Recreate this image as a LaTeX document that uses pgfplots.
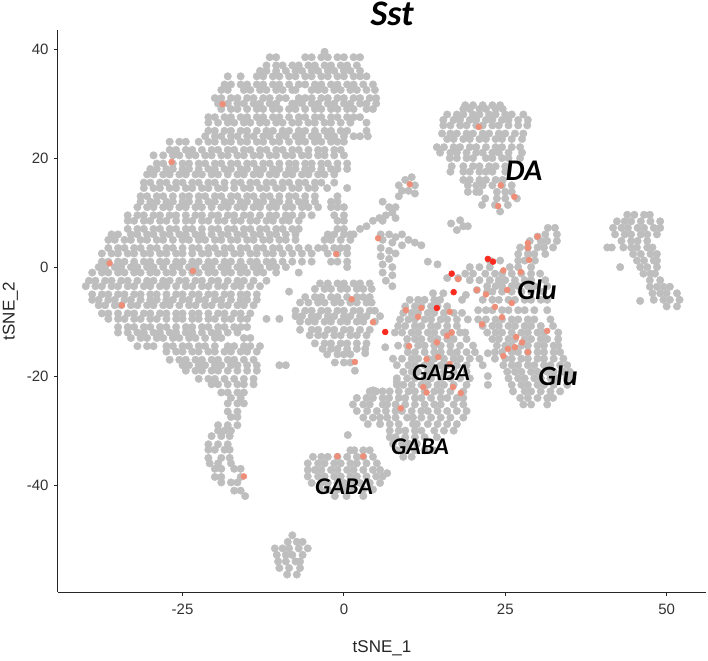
\documentclass[border=0pt]{standalone}
\usepackage{fontspec}
\setmainfont{Liberation Sans}
\newfontfamily\lab{Carlito}[BoldItalicFont={Carlito Bold Italic}]
\usepackage{pgfplots}
\usepackage{pgfplotstable}
\pgfplotsset{compat=1.18}
\definecolor{ptgrey}{HTML}{BEBEBE}
\definecolor{ptsalmon}{HTML}{EE8E78}
\definecolor{ptred}{HTML}{FA2A1E}
\pgfplotstableread{
x y
-3 39.5
-11.5 38.5
-10.5 38.5
-6 38.5
-5 38.5
-3.5 38.5
-2.5 38.5
-1 38.5
0 38.5
1.5 38.5
2.5 38.5
-12 37
-10.5 37
-9.5 37
-8 37
-7 37
-5.5 37
-4.5 37
-3 37
-2 37
-0.5 37
0.5 37
2 37
-13 36
-12 36
-10.5 36
-9 36
-7.5 36
-6.5 36
-5 36
-4 36
-2.5 36
-1.5 36
0 36
1 36
2.5 36
-18 35
-16 35
-13.5 35
-12.5 35
-11 35
-10 35
-8.5 35
-7.5 35
-6 35
-5 35
-3.5 35
-2.5 35
-1 35
0 35
1.5 35
2.5 35
3.5 35
-18.5 33.5
-17.5 33.5
-16 33.5
-15 33.5
-13.5 33.5
-12.5 33.5
-11 33.5
-10 33.5
-8.5 33.5
-7 33.5
-6 33.5
-4.5 33.5
-3.5 33.5
-2 33.5
-1 33.5
0.5 33.5
1.5 33.5
3 33.5
4.5 33.5
-19 32.5
-18 32.5
-15.5 32.5
-14.5 32.5
-13 32.5
-12 32.5
-10.5 32.5
-9.5 32.5
-8 32.5
-7.5 32.5
-5 32.5
-4 32.5
-3 32.5
-1.5 32.5
-0.5 32.5
1 32.5
2 32.5
3.5 32.5
4.8 32.5
-20 31
-19 31
-17.5 31
-16.5 31
-15 31
-14 31
-12.5 31
-11.5 31
-10 31
-9 31
-7 31
-6 31
-5 31
-3.5 31
-2.5 31
-1 31
0 31
1.5 31
2.5 31
4 31
5 31
-19.5 30
-18 30
-16.5 30
-15.5 30
-14 30
-13 30
-11.5 30
-10.5 30
-8 30
-7.5 30
-6.5 30
-5 30
-4 30
-2.5 30
-1.5 30
0 30
1 30
2.5 30
3.5 30
5 30
-19 29
-17.5 29
-16.5 29
-15 29
-13.5 29
-12.5 29
-11 29
-10 29
-8.5 29
-7.5 29
-6 29
-4.5 29
-3.5 29
-2 29
-1 29
0.5 29
1.5 29
3.5 29
4.5 29
-21 27.5
-20 27.5
-18.5 27.5
-17.5 27.5
-16 27.5
-15 27.5
-13.5 27.5
-12.5 27.5
-11 27.5
-10 27.5
-8.5 27.5
-7 27.5
-6 27.5
-4.5 27.5
-3.5 27.5
-2 27.5
-1 27.5
0.5 27.5
1.5 27.5
2.5 27.5
-21 26.5
-19.5 26.5
-18 26.5
-17 26.5
-15.5 26.5
-14.5 26.5
-13 26.5
-12 26.5
-10.5 26.5
-9.5 26.5
-8 26.5
-7 26.5
-5.5 26.5
-4.5 26.5
-3 26.5
-2 26.5
-0.5 26.5
1 26.5
3.5 26.5
-21 25
-20 25
-18.5 25
-17.5 25
-16 25
-15 25
-13.5 25
-12 25
-11 25
-9.5 25
-8.5 25
-7 25
-6 25
-4.5 25
-3 25
-2 25
-0.5 25
0.5 25
3.5 25
-21.5 24
-20 24
-19 24
-17.5 24
-16.5 24
-15 24
-14 24
-12.5 24
-11.5 24
-10 24
-9 24
-7.5 24
-6.5 24
-5 24
-4 24
-2.5 24
-1.5 24
0 24
1.5 24
2.5 24
3.7 24
-27 23
-25.5 23
-24.5 23
-22.5 23
-21 23
-20 23
-18.5 23
-17.5 23
-16 23
-15 23
-13.5 23
-12.5 23
-11 23
-10 23
-8.5 23
-7 23
-6 23
-4.5 23
-3.5 23
-2 23
-1 23
0 23
-27 21.5
-26 21.5
-24.5 21.5
-23.5 21.5
-22 21.5
-20.5 21.5
-19.5 21.5
-18 21.5
-17 21.5
-15.5 21.5
-14.5 21.5
-13 21.5
-12 21.5
-10.5 21.5
-9.5 21.5
-8 21.5
-7 21.5
-5.5 21.5
-4 21.5
-3 21.5
-1.5 21.5
-0.5 21.5
-29.5 20.5
-28 20.5
-26.5 20.5
-25.5 20.5
-24 20.5
-23 20.5
-21.5 20.5
-20.5 20.5
-19 20.5
-18 20.5
-16.5 20.5
-15.5 20.5
-14 20.5
-13 20.5
-11.5 20.5
-10.5 20.5
-9 20.5
-8 20.5
-6.5 20.5
-5.5 20.5
-4 20.5
-3 20.5
-1.5 20.5
0 20.5
-29 19
-28 19
-26.5 19
-25 19
-24 19
-22.5 19
-21.5 19
-20 19
-19 19
-17.5 19
-16.5 19
-15 19
-14 19
-12.5 19
-11.5 19
-10 19
-8.5 19
-7.5 19
-6 19
-5 19
-3.5 19
-2.5 19
-1 19
0.5 19
-30 18
-29 18
-27.5 18
-26.5 18
-25 18
-24 18
-22.5 18
-21 18
-20 18
-18.5 18
-17.5 18
-16 18
-15 18
-13.5 18
-12.5 18
-11 18
-10 18
-8.5 18
-7.5 18
-6 18
-5 18
-3.5 18
-2 18
-1 18
0.5 18
-30.5 17
-29.5 17
-28 17
-27 17
-25.5 17
-24.5 17
-23 17
-22 17
-20.5 17
-19.5 17
-18 17
-16.5 17
-15.5 17
-14 17
-13 17
-11.5 17
-10.5 17
-9 17
-8 17
-6.5 17
-5.5 17
-4 17
-3 17
-1.5 17
-31 15.5
-30 15.5
-28.5 15.5
-27.5 15.5
-26 15.5
-25 15.5
-23.5 15.5
-22.5 15.5
-21 15.5
-20 15.5
-18.5 15.5
-17 15.5
-16 15.5
-14.5 15.5
-13.5 15.5
-12 15.5
-11 15.5
-9.5 15.5
-8.5 15.5
-7 15.5
-6 15.5
-4.5 15.5
-3.5 15.5
-1.5 15.5
-31 14.5
-29.5 14.5
-28.5 14.5
-27 14.5
-26 14.5
-24.5 14.5
-23.5 14.5
-22 14.5
-21 14.5
-19.5 14.5
-18.5 14.5
-17 14.5
-15.5 14.5
-14.5 14.5
-13 14.5
-12 14.5
-10.5 14.5
-9.5 14.5
-8 14.5
-7 14.5
-5.5 14.5
-4.5 14.5
-2.6 14.5
0.5 14.5
-31.5 13
-30.5 13
-29 13
-28 13
-26.5 13
-25 13
-24 13
-22.5 13
-21.5 13
-20 13
-19 13
-17.5 13
-16.5 13
-15 13
-14 13
-12.5 13
-11.5 13
-10 13
-8.5 13
-7.5 13
-6 13
-4.5 13
-1 13
-31.5 12
-30 12
-29 12
-27.5 12
-26.5 12
-25 12
-24 12
-22.5 12
-21 12
-20 12
-18.5 12
-17.5 12
-16 12
-15 12
-13.5 12
-12.5 12
-11 12
-10 12
-8.5 12
-7 12
-6 12
-4.5 12
-2 12
-1 12
-32 11
-30.5 11
-29.5 11
-28 11
-27 11
-25.5 11
-24.5 11
-23 11
-22 11
-20.5 11
-19 11
-18 11
-16.5 11
-15.5 11
-14 11
-13 11
-11.5 11
-10.5 11
-9 11
-8 11
-6.5 11
-5.5 11
-4 11
-2 11
-1 11
0 11
-33.5 9.5
-32 9.5
-31 9.5
-29.5 9.5
-28.5 9.5
-27 9.5
-26 9.5
-24.5 9.5
-23 9.5
-22 9.5
-20.5 9.5
-19.5 9.5
-18 9.5
-17 9.5
-15.5 9.5
-14.5 9.5
-13 9.5
-11.5 9.5
-10.5 9.5
-9 9.5
-8 9.5
-6.5 9.5
-5 9.5
-1.5 9.5
0 9.5
-33.5 8.5
-32.5 8.5
-31 8.5
-30 8.5
-28.5 8.5
-27.5 8.5
-26 8.5
-24.5 8.5
-23.5 8.5
-22 8.5
-21 8.5
-19.5 8.5
-18.5 8.5
-17 8.5
-16 8.5
-14.5 8.5
-13.5 8.5
-12 8.5
-11 8.5
-9.5 8.5
-8.5 8.5
-7 8.5
-1 8.5
0 8.5
-33.5 7
-32 7
-31 7
-29.5 7
-28.5 7
-27 7
-26 7
-24.5 7
-23.5 7
-22 7
-20.5 7
-19.5 7
-18 7
-17 7
-15.5 7
-14.5 7
-13 7
-12 7
-10.5 7
-9.5 7
-8 7
-7 7
-1 7
0 7
-36 6
-35 6
-33 6
-32 6
-30.5 6
-29.5 6
-28 6
-27 6
-25.5 6
-24.5 6
-23 6
-22 6
-20.5 6
-19 6
-18 6
-16.5 6
-15.5 6
-14 6
-13 6
-11.5 6
-10.5 6
-9 6
-7.5 6
-2.5 6
-1.5 6
0 6
1.5 6
-36.5 5
-35.5 5
-34 5
-33 5
-31.5 5
-30.5 5
-29 5
-28 5
-26.5 5
-25 5
-24 5
-22.5 5
-21.5 5
-20 5
-19 5
-17.5 5
-16.5 5
-15 5
-14 5
-12.5 5
-11.5 5
-10 5
-9 5
-7.5 5
-3 5
-2 5
-0.5 5
1 5
-36.5 3.5
-35 3.5
-34 3.5
-32.5 3.5
-31.5 3.5
-30 3.5
-29 3.5
-27.5 3.5
-26.5 3.5
-25 3.5
-23.5 3.5
-22.5 3.5
-21 3.5
-20 3.5
-18.5 3.5
-17.5 3.5
-16 3.5
-15 3.5
-13.5 3.5
-12.5 3.5
-11 3.5
-10 3.5
-8.5 3.5
-7 3.5
-5.5 3.5
-4 3.5
-3 3.5
-1.5 3.5
-0.5 3.5
0.5 3.5
-37.5 2.5
-36 2.5
-35 2.5
-33.5 2.5
-32.5 2.5
-31 2.5
-30 2.5
-28.5 2.5
-27.5 2.5
-26 2.5
-25 2.5
-23.5 2.5
-22 2.5
-21 2.5
-19.5 2.5
-18.5 2.5
-17 2.5
-16 2.5
-14.5 2.5
-13.5 2.5
-12 2.5
-11 2.5
-9.5 2.5
-8 2.5
-6.5 2.5
-5 2.5
-2.5 2.5
-1 2.5
0.5 2.5
-37.5 1
-36.5 1
-35 1
-34 1
-32.5 1
-31 1
-30 1
-28.5 1
-27.5 1
-26 1
-25 1
-23.5 1
-22.5 1
-21 1
-20 1
-18.5 1
-17.5 1
-16 1
-14.5 1
-13.5 1
-12 1
-11 1
-9.5 1
-8 1
-6.5 1
-5 1
-2 1
-1 1
0.5 1
-38 0
-37 0
-35.5 0
-34.5 0
-33 0
-32 0
-30.5 0
-29.5 0
-28 0
-26.5 0
-25.5 0
-24 0
-23 0
-21.5 0
-20.5 0
-19 0
-18 0
-16.5 0
-15.5 0
-14 0
-13 0
-11.5 0
-10.5 0
-9 0
0.5 0
-39 -1
-37.5 -1
-36.5 -1
-35 -1
-34 -1
-32.5 -1
-31.5 -1
-30 -1
-29 -1
-27.5 -1
-26.5 -1
-25 -1
-23.5 -1
-22.5 -1
-21 -1
-20 -1
-18.5 -1
-17.5 -1
-16 -1
-15 -1
-13.5 -1
-12.5 -1
-10.5 -1
-7 -1
-39.5 -2.5
-38.5 -2.5
-37 -2.5
-36 -2.5
-34.5 -2.5
-33.5 -2.5
-32 -2.5
-30.5 -2.5
-29.5 -2.5
-28 -2.5
-27 -2.5
-25.5 -2.5
-24.5 -2.5
-23 -2.5
-22 -2.5
-20.5 -2.5
-19.5 -2.5
-18 -2.5
-16.5 -2.5
-15.5 -2.5
-14 -2.5
-12 -2.5
-40 -3.5
-38.5 -3.5
-37.5 -3.5
-36 -3.5
-35 -3.5
-33.5 -3.5
-32.5 -3.5
-31 -3.5
-30 -3.5
-28.5 -3.5
-27.5 -3.5
-26 -3.5
-24.5 -3.5
-23.5 -3.5
-22 -3.5
-21 -3.5
-19.5 -3.5
-18.5 -3.5
-17 -3.5
-16 -3.5
-14.5 -3.5
-13 -3.5
-39 -5
-37.5 -5
-36.5 -5
-35 -5
-34 -5
-32.5 -5
-31.5 -5
-30 -5
-29 -5
-27.5 -5
-26 -5
-25 -5
-23.5 -5
-22.5 -5
-21 -5
-20 -5
-18.5 -5
-17.5 -5
-16 -5
-15 -5
-13.5 -5
-39 -6
-38 -6
-36.5 -6
-35.5 -6
-34 -6
-33 -6
-31.5 -6
-30 -6
-29 -6
-27.5 -6
-26.5 -6
-25 -6
-24 -6
-22.5 -6
-21.5 -6
-20 -6
-19 -6
-17.5 -6
-16 -6
-15 -6
-13.5 -6
-38 -7
-37 -7
-35.5 -7
-34.5 -7
-33 -7
-32 -7
-30.5 -7
-29.5 -7
-28 -7
-27 -7
-25.5 -7
-24 -7
-23 -7
-21.5 -7
-20.5 -7
-19 -7
-18 -7
-16.5 -7
-15.5 -7
-14 -7
-37.5 -8.5
-36.5 -8.5
-35 -8.5
-33.5 -8.5
-32.5 -8.5
-31 -8.5
-30 -8.5
-28.5 -8.5
-27.5 -8.5
-26 -8.5
-25 -8.5
-23.5 -8.5
-22.5 -8.5
-21 -8.5
-19.5 -8.5
-18.5 -8.5
-17 -8.5
-16 -8.5
-14.5 -8.5
-36.5 -9.5
-35 -9.5
-34 -9.5
-32.5 -9.5
-31.5 -9.5
-30 -9.5
-29 -9.5
-27.5 -9.5
-26 -9.5
-25 -9.5
-23.5 -9.5
-22.5 -9.5
-21 -9.5
-20 -9.5
-18.5 -9.5
-17.5 -9.5
-16 -9.5
-15 -9.5
-12 -9.5
-10 -9.5
-35 -11
-33.5 -11
-32.5 -11
-31 -11
-30 -11
-28.5 -11
-27.5 -11
-26 -11
-24.5 -11
-23.5 -11
-22 -11
-21 -11
-19.5 -11
-18.5 -11
-17 -11
-16 -11
-15 -11
-35 -12
-33.5 -12
-32 -12
-31 -12
-29.5 -12
-28.5 -12
-27 -12
-26 -12
-24.5 -12
-23.5 -12
-22 -12
-20.5 -12
-19.5 -12
-18 -12
-16.5 -12
-33 -13
-31.5 -13
-30.5 -13
-29 -13
-28 -13
-26.5 -13
-25.5 -13
-24 -13
-23 -13
-21.5 -13
-20 -13
-19 -13
-15.5 -13
-14.5 -13
-32 -14.5
-30.5 -14.5
-29.5 -14.5
-27.5 -14.5
-26.5 -14.5
-25 -14.5
-24 -14.5
-22.5 -14.5
-21.5 -14.5
-20 -14.5
-18 -14.5
-17 -14.5
-15.5 -14.5
-14.5 -14.5
-13 -14.5
-27.5 -15.5
-26 -15.5
-25 -15.5
-23.5 -15.5
-22.5 -15.5
-21 -15.5
-20 -15.5
-18.5 -15.5
-17.5 -15.5
-16 -15.5
-15 -15.5
-13.5 -15.5
-27 -17
-25.5 -17
-24.5 -17
-23 -17
-22 -17
-20.5 -17
-19.5 -17
-18 -17
-17 -17
-15.5 -17
-14 -17
-25 -18
-24 -18
-22.5 -18
-21.5 -18
-20 -18
-19 -18
-17.5 -18
-16.5 -18
-15 -18
-13.5 -18
-10 -18
-9 -18
-24.5 -19
-23 -19
-22 -19
-20.5 -19
-19.5 -19
-18 -19
-16.5 -19
-15 -19
-13.5 -19
-22.5 -20.5
-21 -20.5
-20 -20.5
-18.5 -20.5
-17 -20.5
-15.5 -20.5
-14 -20.5
-20.5 -21.5
-19.5 -21.5
-18 -21.5
-16.5 -21.5
-15.5 -21.5
-14 -21.5
-19 -23
-18 -23
-16.5 -23
-15.5 -23
-17.5 -24
-16 -24
-18 -25
-16.5 -25
-15.5 -25
-18 -26.5
-16.5 -26.5
-17.5 -27.5
-16.5 -27.5
-19.5 -29
-18 -29
-16.5 -29
-19.5 -30
-18.5 -30
-17.5 -30
-20.5 -31
-19 -31
-17.7 -31
-21 -32.5
-19.5 -32.5
-18 -32.5
-21 -33.5
-20 -33.5
-18.5 -33.5
-17.7 -33.5
-21 -35
-19 -35
-17.7 -35
-20.8 -36
-19.5 -36
-17.5 -36
-20 -37
-19 -37
-17 -37
-16 -37
-20 -38.5
-19 -38.5
-16 -38.5
-19 -39.5
-17.5 -39.5
-16.5 -39.5
-17 -41
-16 -41
-15.3 -42
1 6
2.5 7
3.5 7.5
4.5 8.5
5.5 9
6.5 9.5
7.5 10
8 11
6 8.5
7 11
8.5 13
9 14
10 14
11 15
8.5 15
9.5 16
10.5 16.5
11 13.5
5.7 6
7 6
8 5.5
9 6
10 5
11 4.5
12 4
6 5
7.5 4.5
9 4
5.7 3.5
7 3
8 2.5
5.7 2
7 1.5
6 0.5
7.5 0
6 -1
7.5 -1.5
6.5 -2.5
7.5 -3.5
13 1
14.5 0.5
6 12
8 9
-3.7 -3
-2.5 -3
-1 -3
0 -3
1.5 -3
2.5 -3
4 -3
-4.5 -4
-3 -4
-2 -4
-0.5 -4
0.5 -4
2 -4
3 -4
4.3 -4
-8.5 -4.5
-6 -5.5
-4.5 -5.5
-3.5 -5.5
-2 -5.5
-1 -5.5
0.5 -5.5
2 -5.5
3 -5.5
4 -5.5
-6.8 -6.5
-5.5 -6.5
-4 -6.5
-3 -6.5
-1.5 -6.5
-0.5 -6.5
1 -6.5
2 -6.5
3.5 -6.5
4.3 -6.5
-7.5 -8
-6 -8
-5 -8
-3.5 -8
-2.5 -8
-1 -8
0 -8
1.5 -8
2.5 -8
4 -8
4.8 -8
-7.5 -9
-6.5 -9
-5 -9
-4 -9
-2.5 -9
-1.5 -9
0 -9
1 -9
2.5 -9
3.5 -9
5.6 -9
-6.8 -10
-5.5 -10
-4.5 -10
-3 -10
-2 -10
-0.5 -10
0.5 -10
2 -10
3 -10
4.8 -10
-6.8 -11.5
-5 -11.5
-4 -11.5
-2.5 -11.5
-1.5 -11.5
0 -11.5
1 -11.5
2.5 -11.5
4 -11.5
-5.3 -12.5
-4 -12.5
-3 -12.5
-1.5 -12.5
-0.5 -12.5
1 -12.5
2 -12.5
3.5 -12.5
-4.5 -14
-3 -14
-2 -14
-0.5 -14
0.5 -14
2 -14
3.5 -14
-3.3 -15
-2 -15
-1 -15
0.5 -15
2 -15
3.3 -15
-2.6 -16
-1 -16
0 -16
1 -16
-1.4 -17.5
0 -17.5
1 -17.5
1.7 -19
18.8 29.7
20 29.7
21.5 29.7
23 29.7
24.2 29.7
18.5 29
19.5 29
21 29
22 29
23.5 29
24.6 29
16 28
17.5 28
18.5 28
20 28
21 28
22.5 28
23.5 28
25 28
26 28
27.8 28
15.4 27
17 27
18 27
19.5 27
20.5 27
22 27
23 27
24.5 27
25.5 27
27 27
28.5 27
15.4 26
16.5 26
18 26
19 26
20.5 26
21.5 26
23 26
24 26
25.5 26
27 26
28.4 26
15.2 24.5
16.5 24.5
17.5 24.5
19 24.5
20 24.5
21.5 24.5
22.5 24.5
24 24.5
25 24.5
26.5 24.5
27.8 24.5
16 23.5
17 23.5
18.5 23.5
19.5 23.5
21 23.5
22 23.5
23.5 23.5
24.5 23.5
26 23.5
27.6 23.5
14.4 22
15.5 22
17 22
18 22
19.5 22
20.5 22
22 22
23.5 22
24.5 22
26 22
27.3 22
14.9 21
16.5 21
17.5 21
19 21
20.5 21
21.5 21
23 21
24 21
25.5 21
27.6 21
16.4 20
17.5 20
19 20
20 20
22 20
23 20
24.5 20
25.5 20
27.3 20
16.7 18.5
18.5 18.5
20 18.5
21 18.5
22.5 18.5
23.5 18.5
25 18.5
16.5 17.5
18.5 17.5
19.5 17.5
21 17.5
22 17.5
23 17.5
25 17.5
18.5 16
19.5 16
21 16
22 16
23.5 16
24.6 16
19.2 15
20.5 15
21.5 15
23 15
24.5 15
26 15
19.2 13.8
20.5 13.8
21 13.8
23.7 13.8
25 13.8
26 13.8
21.9 12.6
23.7 12.6
25 12.6
26.8 12.6
21.4 11.4
23.4 11.4
25.4 11.4
24.2 10.2
16.6 8
18 8.6
19.2 7.5
17.5 6.8
18.5 7.5
43.9 9.6
45 9.6
46.5 9.6
47.4 9.6
42.3 8.4
43.5 8.4
44.5 8.4
46 8.4
47.5 8.4
49 8.4
41.7 7.2
43 7.2
44 7.2
45.5 7.2
46.5 7.2
48 7.2
49 7.2
42 6
43.5 6
44.5 6
46 6
47 6
48.5 6
43 4.8
44.5 4.8
45.5 4.8
47 4.8
40.8 3.6
41.5 3.6
43.3 3.6
44.5 3.6
45.4 3.6
47 3.6
47.8 3.6
44.8 2.4
46 2.4
47.5 2.4
48.5 2.4
45.4 1.2
46.5 1.2
48 1.2
48.5 1.2
42.8 0
45.9 0
47 0
48.5 0
46.4 -1.2
47.5 -1.2
48.2 -1.2
47.4 -2.4
49 -2.4
47.4 -3.6
48.5 -3.6
49.5 -3.6
50.5 -3.6
47.8 -4.8
49 -4.8
50 -4.8
51.6 -4.8
48 -6
49.5 -6
50.5 -6
52 -6
50 -7.2
51.6 -7.2
45.9 -6.2
31.6 7.2
32.7 7.2
31.2 6
33 6
30 5.6
28.8 4.8
30.5 4.8
31.5 4.8
33 4.8
27.3 3.6
28.5 3.6
30 3.6
31 3.6
32.4 3.6
27 2.4
28.5 2.4
29.5 2.4
31.2 2.4
22.6 1.2
24.2 1.2
27 1.2
28 1.2
29.6 1.2
19.5 0
21 0
22.6 0
25.7 0
27 0
29 0
18.8 -1.2
20 -1.2
21.9 -1.2
23.4 -1.2
24.5 -1.2
26 -1.2
27.5 -1.2
29 -1.2
30.4 -1.2
19.5 -2.4
21 -2.4
22.6 -2.4
24 -2.4
25 -2.4
26.5 -2.4
28 -2.4
29 -2.4
31.2 -2.4
16 -2
17.7 -2
22.2 -3.5
23.5 -3.5
24.5 -3.5
26 -3.5
27 -3.5
28.5 -3.5
29.5 -3.5
31.5 -3.5
20.6 -4.2
22.2 -4.5
23 -4.5
24.5 -4.5
26 -4.5
27.5 -4.5
29 -4.5
30.9 -4.5
21.5 -6
23 -6
24 -6
25.5 -6
26.5 -6
28 -6
29 -6
30.5 -6
31.5 -6
20.8 -7.9
22 -7.9
23 -7.9
24.5 -7.9
25.5 -7.9
27 -7.9
28 -7.9
29.5 -7.9
31.5 -7.9
20.8 -9.6
22 -9.6
23.5 -9.6
24.5 -9.6
26 -9.6
27 -9.6
28.5 -9.6
29.5 -9.6
32 -9.6
21.5 -10.8
23 -10.8
24 -10.8
25.5 -10.8
26.5 -10.8
28 -10.8
29 -10.8
30.5 -10.8
32.4 -10.8
22.2 -12
23.5 -12
24.5 -12
26 -12
27.5 -12
28.5 -12
30 -12
31 -12
33.2 -12
23 -13.2
24 -13.2
25.5 -13.2
26.5 -13.2
28 -13.2
29 -13.2
30.5 -13.2
31.5 -13.2
33.2 -13.2
23.7 -14.4
25 -14.4
26 -14.4
27.5 -14.4
28.5 -14.4
30 -14.4
31 -14.4
32.5 -14.4
33.2 -14.4
23.4 -15.6
24.5 -15.6
26 -15.6
27 -15.6
28.5 -15.6
30 -15.6
31 -15.6
32.5 -15.6
33.5 -15.6
23.4 -16.8
25 -16.8
26 -16.8
27.5 -16.8
28.5 -16.8
30 -16.8
31 -16.8
32.5 -16.8
34 -16.8
24.7 -18
26 -18
27 -18
28.5 -18
29.5 -18
31 -18
32 -18
33.5 -18
34.6 -18
25.3 -19.2
26.5 -19.2
27.5 -19.2
29 -19.2
30 -19.2
31.5 -19.2
32.5 -19.2
34 -19.2
35 -19.2
25.5 -20.4
27 -20.4
28 -20.4
29.5 -20.4
30.5 -20.4
32 -20.4
33 -20.4
34.5 -20.4
35.4 -20.4
26 -21.6
27.5 -21.6
28.5 -21.6
30 -21.6
31 -21.6
32.5 -21.6
34.6 -21.6
26.2 -22.8
28 -22.8
29 -22.8
30.5 -22.8
32 -22.8
33.5 -22.8
27.3 -24
28.5 -24
30 -24
31.5 -24
32.4 -24
27.8 -25.2
29 -25.2
31.5 -25.2
13.8 -4.8
15.4 -4.8
10.2 -6
11.5 -6
12.5 -6
14 -6
14.9 -6
18.3 -6
9.5 -7.2
11 -7.2
12 -7.2
13.5 -7.2
14.5 -7.2
16 -7.2
9.2 -8.4
10.5 -8.4
11.5 -8.4
13 -8.4
14 -8.4
15.5 -8.4
17 -8.4
18.3 -8.4
8.7 -9.6
10 -9.6
11 -9.6
12.5 -9.6
13.5 -9.6
15 -9.6
16 -9.6
17.5 -9.6
19.2 -9.6
8.4 -10.8
9.5 -10.8
11 -10.8
12 -10.8
13.5 -10.8
14.5 -10.8
16 -10.8
17.5 -10.8
7.9 -12
9 -12
10.5 -12
11.5 -12
13 -12
14 -12
15.5 -12
16.5 -12
18 -12
18.8 -12
9.8 -13.2
11 -13.2
12 -13.2
13.5 -13.2
14.5 -13.2
16 -13.2
17 -13.2
19 -13.2
9.8 -14.4
11.5 -14.4
12.5 -14.4
14 -14.4
15 -14.4
16.5 -14.4
18 -14.4
20 -14.4
9.9 -15.6
11 -15.6
12.5 -15.6
14 -15.6
15 -15.6
16.5 -15.6
17.5 -15.6
19 -15.6
20.3 -15.6
7.6 -16.8
9 -16.8
10.5 -16.8
11.5 -16.8
13 -16.8
14 -16.8
15.5 -16.8
17 -16.8
18 -16.8
19.5 -16.8
21 -16.8
8.2 -18
10 -18
11 -18
12.5 -18
13.5 -18
15 -18
16 -18
17.5 -18
19 -18
21.5 -18
9.2 -19.2
10.5 -19.2
11.5 -19.2
13 -19.2
14 -19.2
15.5 -19.2
17 -19.2
19 -19.2
22.3 -20
8.2 -20.4
9.8 -20.4
11 -20.4
12.5 -20.4
13.5 -20.4
15 -20.4
16.5 -20.4
18 -20.4
19.5 -20.4
8.2 -21.6
9.2 -21.6
10.5 -21.6
12 -21.6
13 -21.6
14.5 -21.6
15.5 -21.6
17 -21.6
19 -21.6
22.3 -21.6
4 -22.8
5 -22.8
6 -22.8
7.1 -22.8
8.5 -22.8
10 -22.8
11 -22.8
12.5 -22.8
14 -22.8
15 -22.8
16.5 -22.8
18.5 -22.8
2 -24
3.5 -24
4.5 -24
6 -24
7 -24
8.5 -24
9.5 -24
11 -24
12 -24
13.5 -24
15 -24
16 -24
17.5 -24
18.5 -24
1.4 -25.2
3 -25.2
4 -25.2
6 -25.2
6.7 -25.2
8 -25.2
9.5 -25.2
11 -25.2
12.5 -25.2
14 -25.2
15 -25.2
17 -25.2
18.5 -25.2
2 -26.4
3.6 -26.4
5.1 -26.4
6.5 -26.4
8 -26.4
9 -26.4
10.5 -26.4
12 -26.4
13 -26.4
14.5 -26.4
16 -26.4
17.5 -26.4
19 -26.4
3 -27.6
4.5 -27.6
5.6 -27.6
6.7 -27.6
8 -27.6
9.8 -27.6
10.7 -27.6
12 -27.6
13.5 -27.6
15 -27.6
16.5 -27.6
18.5 -27.6
3.7 -28.8
5.6 -28.8
7.1 -28.8
8.5 -28.8
10.7 -28.8
11.3 -28.8
13 -28.8
14.5 -28.8
16 -28.8
17.5 -28.8
7.1 -30
8.5 -30
9.5 -30
11 -30
12 -30
14 -30
15.5 -30
17 -30
7.1 -31.2
8 -31.2
9.5 -31.2
11 -31.2
12.5 -31.2
14.4 -31.2
7.6 -32.4
9 -32.4
10 -32.4
11.3 -32.4
8.2 -33.6
9.5 -33.6
11 -33.6
12.5 -33.6
13.8 -33.6
9.2 -34.8
10.5 -34.8
0.6 -30.8
18.9 -5.1
22.3 -15.8
8.4 -14.4
6.4 -14.7
3.3 -15.8
8.2 -21
4.5 -22.6
1 -33.6
1.6 -33.6
3 -33.6
4 -33.6
-4.8 -34.8
-3.5 -34.8
-2.5 -34.8
-1 -34.8
0.5 -34.8
2 -34.8
3 -34.8
4.5 -34.8
-5.6 -36
-4 -36
-3 -36
-1.5 -36
-0.5 -36
1 -36
2 -36
3.5 -36
5.1 -36
-5.6 -37.2
-4.5 -37.2
-3.5 -37.2
-2 -37.2
-1 -37.2
0.5 -37.2
1.5 -37.2
3 -37.2
4.5 -37.2
5.6 -37.2
-5.6 -38.4
-4 -38.4
-3 -38.4
-1.5 -38.4
-0.5 -38.4
1 -38.4
2 -38.4
3.5 -38.4
5 -38.4
6 -38.4
-5 -39.6
-3.5 -39.6
-2.5 -39.6
-1 -39.6
0 -39.6
1.5 -39.6
2.5 -39.6
4 -39.6
5.6 -39.6
-3.7 -40.8
-2.5 -40.8
-1 -40.8
0 -40.8
1.5 -40.8
3 -40.8
4.5 -40.8
-1.4 -42
0.4 -42
3 -42
6.7 -37.8
-8 -49.2
-8.7 -50.4
-7.3 -50.4
-6.4 -50.4
-10.7 -51.6
-9.5 -51.6
-8.5 -51.6
-7 -51.6
-5.6 -51.6
-10.4 -52.8
-9 -52.8
-8 -52.8
-6.4 -52.8
-10.2 -54
-9 -54
-7.5 -54
-6.8 -54
-10 -55.2
-8.5 -55.2
-6.8 -55.2
-8.8 -56.4
-7.3 -56.4
}\greypts
\pgfplotstableread{
x y
-34.4 -7
-18.8 29.9
-26.7 19.3
-23.4 -0.7
-36.3 0.7
-1.2 2.4
1.2 -5.9
4.5 -10.1
5.3 5.3
-15.5 -38.4
-1 -34.7
3 -34.7
1.7 -17.4
20.9 25.7
24.3 15
26.4 12.9
23.9 11.2
10.2 15.2
9.6 -7.9
12 -7.5
11.5 -9.1
16.4 -8.2
10.1 -14.5
12.8 -16.9
14.4 -13.8
16 -12.6
16.7 -12
14.6 -16.5
16.4 -17.8
12.3 -22
12.8 -23
16.9 -22
18.1 -23.1
8.8 -25.9
24.7 -0.6
27.4 -0.9
17.7 -2.2
20.6 -4.2
28.5 4.4
30 5.6
28.7 1.3
28.5 3.5
22 -5
25.3 -4.2
23.4 -7.3
26 -6.6
21.4 -10.5
24.5 -9.2
26.7 -12.8
27.6 -13.8
25.4 -15
24.7 -16.3
26.5 -14.7
28.5 -15.6
31.5 -11.7
}\salmonpts
\pgfplotstableread{
x y
16.7 -1.2
17 -4.6
22.3 1.5
23.1 1
6.4 -11.9
14.4 -7.5
}\redpts
\begin{document}
\begin{tikzpicture}[x=1pt,y=1pt]
\path[use as bounding box] (-58,-68) rectangle (650,592);
\begin{axis}[
  at={(0,0)},anchor=south west,
  scale only axis,width=648pt,height=562pt,
  xmin=-44.3,xmax=56.1,ymin=-59.6,ymax=43.5,
  axis x line=bottom,axis y line=left,
  axis line style={-,black!85,line width=1pt},
  tick style={black!85,line width=1pt},
  tick align=outside,
  major tick length=4pt,
  xtick={-25,0,25,50},xticklabels={-25,0,25,50},
  ytick={-40,-20,0,20,40},yticklabels={-40,-20,0,20,40},
  tick label style={font=\fontsize{15}{18}\selectfont,text=black!80},
  x tick label style={yshift=-4pt},
  y tick label style={xshift=-2pt},
  xlabel={tSNE\_1},ylabel={tSNE\_2},
  xlabel style={yshift=-20pt},
  ylabel style={yshift=2pt},
  label style={font=\fontsize{17}{20}\selectfont,text=black!85},
  clip=false,
]
\addplot[only marks,ptgrey,mark=*,mark size=3.75pt,mark options={draw=ptgrey,fill=ptgrey}] table[x=x,y=y]{\greypts};
\addplot[only marks,ptsalmon,mark=*,mark size=3pt,mark options={draw=ptsalmon,fill=ptsalmon}] table[x=x,y=y]{\salmonpts};
\addplot[only marks,ptred,mark=*,mark size=3pt,mark options={draw=ptred,fill=ptred}] table[x=x,y=y]{\redpts};
\end{axis}
\node[font=\lab\bfseries\itshape\fontsize{36}{40}\selectfont] at (334,578) {Sst};
\node[font=\lab\bfseries\itshape\fontsize{30}{34}\selectfont] at (466,421) {DA};
\node[font=\lab\bfseries\itshape\fontsize{28}{32}\selectfont] at (479,302) {Glu};
\node[font=\lab\bfseries\itshape\fontsize{28}{32}\selectfont] at (500,216) {Glu};
\node[font=\lab\bfseries\itshape\fontsize{24}{28}\selectfont] at (383,219) {GABA};
\node[font=\lab\bfseries\itshape\fontsize{24}{28}\selectfont] at (362,145) {GABA};
\node[font=\lab\bfseries\itshape\fontsize{24}{28}\selectfont] at (286,105) {GABA};
\end{tikzpicture}
\end{document}
